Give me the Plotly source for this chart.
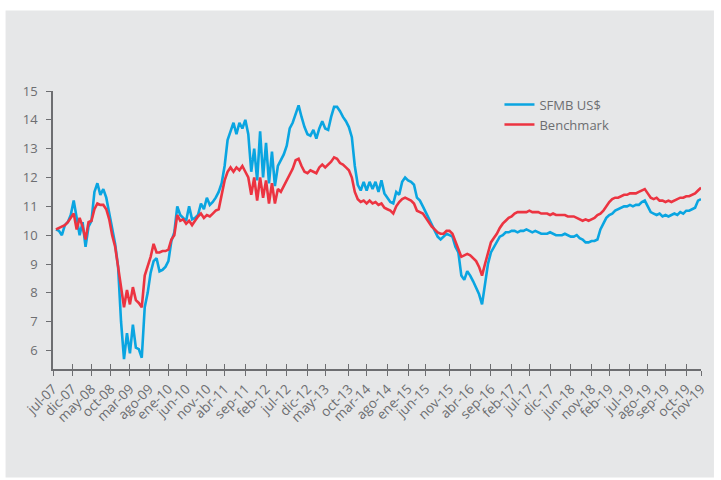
import plotly.graph_objects as go

# observation number (evenly spaced category positions)
n_obs = 220

tick_labels = ["jul-07", "dic-07", "may-08", "oct-08", "mar-09", "ago-09", "ene-10", "jun-10",
               "nov-10", "abr-11", "sep-11", "feb-12", "jul-12", "dic-12", "may-13", "oct-13",
               "mar-14", "ago-14", "ene-15", "jun-15", "nov-15", "abr-16", "sep-16", "feb-17",
               "jul-17", "dic-17", "jun-18", "nov-18", "feb-19", "jul-19", "ago-19", "sep-19",
               "oct-19", "nov-19"]
tick_obs = [0, 6.5, 13, 19.5, 26, 32.5, 39, 45, 52, 58, 65, 72, 79, 86, 92, 100, 106, 113,
            120, 126, 134, 141, 148, 155, 161, 168, 175, 182, 188, 195, 201, 207, 214, 219]

sfmb = [None,
        10.2, 10.15, 10.0, 10.35, 10.45, 10.7, 11.2, 10.6, 10.0, 10.45,
        9.6, 10.3, 10.5, 11.5, 11.8, 11.4, 11.6, 11.3, 10.8, 10.3,
        9.7, 8.9, 7.0, 5.7, 6.6, 5.9, 6.9, 6.1, 6.05, 5.75,
        7.5, 8.0, 8.7, 9.1, 9.2, 8.75, 8.8, 8.9, 9.1, 9.8,
        10.1, 11.0, 10.7, 10.6, 10.5, 11.0, 10.55, 10.6, 10.7, 11.1,
        10.9, 11.3, 11.05, 11.15, 11.3, 11.5, 11.8, 12.4, 13.3, 13.6,
        13.9, 13.5, 13.9, 13.7, 14.0, 13.5, 12.2, 13.0, 11.9, 13.6,
        12.0, 13.2, 11.8, 12.9, 11.7, 12.4, 12.6, 12.8, 13.1, 13.7,
        13.9, 14.2, 14.5, 14.1, 13.75, 13.5, 13.45, 13.65, 13.35, 13.7,
        13.95, 13.7, 13.65, 14.1, 14.45, 14.45, 14.3, 14.1, 13.95, 13.75,
        13.4, 12.4, 11.75, 11.55, 11.85, 11.55, 11.85, 11.6, 11.85, 11.5,
        11.9, 11.45, 11.3, 11.15, 11.1, 11.5, 11.4, 11.85, 12.0, 11.9,
        11.85, 11.75, 11.3, 11.2, 11.0, 10.8, 10.6, 10.35, 10.2, 9.95,
        9.85, 9.95, 10.05, 10.0, 9.95, 9.6, 9.4, 8.6, 8.45, 8.75,
        8.6, 8.4, 8.2, 7.95, 7.6, 8.3, 9.0, 9.4, 9.6, 9.75,
        9.95, 10.0, 10.1, 10.1, 10.15, 10.15, 10.1, 10.15, 10.15, 10.2,
        10.15, 10.1, 10.15, 10.1, 10.05, 10.05, 10.05, 10.1, 10.05, 10.0,
        10.0, 10.0, 10.05, 10.0, 9.95, 9.95, 10.0, 9.9, 9.85, 9.75,
        9.75, 9.8, 9.8, 9.85, 10.2, 10.4, 10.6, 10.7, 10.75, 10.85,
        10.9, 10.95, 11.0, 11.0, 11.05, 11.0, 11.05, 11.05, 11.15, 11.2,
        11.0, 10.8, 10.75, 10.7, 10.75, 10.65, 10.7, 10.65, 10.7, 10.75,
        10.7, 10.8, 10.75, 10.85, 10.85, 10.9, 10.95, 11.2, 11.25]

benchmark = [None,
             10.2, 10.25, 10.3, 10.35, 10.45, 10.6, 10.75, 10.2, 10.6, 10.3,
             9.85, 10.45, 10.5, 10.9, 11.1, 11.05, 11.05, 10.9, 10.55, 10.0,
             9.6, 8.9, 8.2, 7.5, 8.1, 7.6, 8.2, 7.75, 7.65, 7.5,
             8.6, 8.9, 9.25, 9.7, 9.4, 9.4, 9.45, 9.45, 9.5, 9.85,
             10.0, 10.7, 10.5, 10.55, 10.4, 10.5, 10.35, 10.5, 10.65, 10.75,
             10.6, 10.7, 10.65, 10.75, 10.85, 10.9, 11.4, 11.9, 12.2, 12.35,
             12.2, 12.35, 12.25, 12.4, 12.2, 12.0, 11.4, 12.0, 11.2, 12.0,
             11.3, 11.9, 11.1, 11.8, 11.1, 11.6, 11.5, 11.7, 11.95, 12.1,
             12.3, 12.6, 12.65, 12.4, 12.2, 12.15, 12.25, 12.2, 12.15, 12.35,
             12.45, 12.35, 12.45, 12.55, 12.7, 12.65, 12.5, 12.45, 12.35, 12.25,
             12.0, 11.5, 11.25, 11.15, 11.2, 11.1, 11.2, 11.1, 11.15, 11.05,
             11.1, 10.95, 10.9, 10.85, 10.75, 11.0, 11.15, 11.25, 11.3, 11.25,
             11.2, 11.1, 10.85, 10.8, 10.75, 10.6, 10.45, 10.3, 10.2, 10.1,
             10.05, 10.05, 10.15, 10.15, 10.05, 9.8, 9.5, 9.25, 9.3, 9.35,
             9.3, 9.2, 9.1, 8.9, 8.6, 9.0, 9.4, 9.75, 9.9, 10.05,
             10.25, 10.4, 10.5, 10.6, 10.65, 10.75, 10.8, 10.8, 10.8, 10.8,
             10.85, 10.8, 10.8, 10.8, 10.75, 10.75, 10.75, 10.7, 10.75, 10.7,
             10.7, 10.7, 10.7, 10.65, 10.65, 10.65, 10.6, 10.55, 10.5, 10.55,
             10.5, 10.55, 10.6, 10.7, 10.75, 10.85, 11.0, 11.15, 11.25, 11.3,
             11.3, 11.35, 11.4, 11.4, 11.45, 11.45, 11.45, 11.5, 11.55, 11.6,
             11.45, 11.3, 11.25, 11.3, 11.2, 11.2, 11.15, 11.2, 11.15, 11.2,
             11.25, 11.3, 11.3, 11.35, 11.35, 11.4, 11.45, 11.55, 11.65]

x = list(range(n_obs))

BLUE = "#0aa5e1"
RED = "#ec3441"
AXIS = "#6d6e71"
FONT = "Open Sans"

fig = go.Figure()
fig.add_trace(go.Scatter(x=x, y=sfmb, mode="lines", name="SFMB US$",
                         line=dict(color=BLUE, width=2.6)))
fig.add_trace(go.Scatter(x=x, y=benchmark, mode="lines", name="Benchmark",
                         line=dict(color=RED, width=2.6)))

fig.update_layout(
    width=721, height=480,
    margin=dict(l=53, r=12, t=91, b=111),
    paper_bgcolor="white",
    plot_bgcolor="rgba(0,0,0,0)",
    font=dict(family=FONT, color=AXIS, size=12),
    showlegend=True,
    legend=dict(x=0.689, y=1.005, xanchor="left", yanchor="top",
                bgcolor="rgba(0,0,0,0)", font=dict(size=13, color=AXIS),
                tracegroupgap=0, itemwidth=30),
    xaxis=dict(range=[0, n_obs - 1], tickmode="array", tickvals=tick_obs,
               ticktext=tick_labels, tickangle=-45, ticks="outside", ticklen=5,
               tickcolor=AXIS, tickwidth=1.2, showline=True, linecolor=AXIS,
               linewidth=1.5, showgrid=False, zeroline=False,
               tickfont=dict(size=13.5, color=AXIS)),
    xaxis2=dict(range=[0, n_obs - 1], overlaying="x", anchor="y", side="bottom",
                tickmode="array", tickvals=tick_obs, ticktext=[""] * len(tick_obs),
                ticks="inside", ticklen=5, tickcolor=AXIS, tickwidth=1.2,
                showline=False, showgrid=False, zeroline=False, showticklabels=False),
    yaxis=dict(range=[5.36, 15], tickmode="array", tickvals=list(range(6, 16)),
               ticks="outside", ticklen=5, tickcolor=AXIS, tickwidth=1.2,
               showline=True, linecolor=AXIS, linewidth=1.5, showgrid=False,
               zeroline=False, ticklabelstandoff=6,
               tickfont=dict(size=13, color=AXIS)),
    shapes=[dict(type="rect", xref="paper", yref="paper",
                 x0=-0.0732, x1=1.02, y0=-0.39, y1=1.29,
                 fillcolor="#e6e7e8", line=dict(width=0), layer="below")],
)
# attach an invisible trace to xaxis2 so it is drawn
fig.add_trace(go.Scatter(x=[0], y=[None], xaxis="x2", showlegend=False,
                         hoverinfo="skip"))

fig.write_html("out.html")
